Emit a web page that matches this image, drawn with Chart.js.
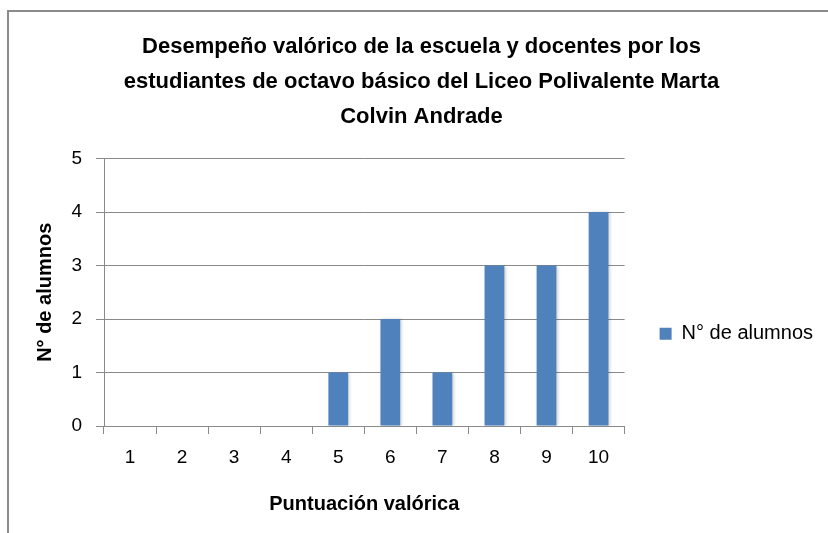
<!DOCTYPE html>
<html>
<head>
<meta charset="utf-8">
<script src="https://cdn.jsdelivr.net/npm/chart.js@4.4.1/dist/chart.umd.min.js"></script>
<style>
  html, body { margin: 0; padding: 0; background: #ffffff; }
  #wrap { width: 828px; height: 533px; position: relative; }
</style>
</head>
<body>
<div id="wrap"><canvas id="c" width="828" height="533"></canvas></div>
<script>
// ---- data ----
const categories = ['1', '2', '3', '4', '5', '6', '7', '8', '9', '10'];
const seriesName = 'N° de alumnos';
const alumnos = [0, 0, 0, 0, 1, 2, 1, 3, 3, 4];
const yTicks = [0, 1, 2, 3, 4, 5];
const titleLines = [
  'Desempeño valórico de la escuela y docentes por los',
  'estudiantes de octavo básico del Liceo Polivalente Marta',
  'Colvin Andrade'
];
const xTitle = 'Puntuación valórica';
const yTitle = 'N° de alumnos';

// ---- styles ----
const FONT = "'Liberation Sans', Arial, sans-serif";
const GRID = '#8a8a8a';
const BAR = '#4F81BD';

const framePlugin = {
  id: 'frame',
  beforeDraw(chart) {
    const ctx = chart.ctx;
    ctx.save();
    ctx.fillStyle = '#ffffff';
    ctx.fillRect(0, 0, chart.width, chart.height);
    ctx.strokeStyle = '#8c8c8c';
    ctx.lineWidth = 2;
    ctx.beginPath();
    ctx.moveTo(8, chart.height + 5);
    ctx.lineTo(8, 11);
    ctx.lineTo(chart.width + 5, 11);
    ctx.stroke();
    ctx.restore();
  }
};

const shadowPlugin = {
  id: 'barShadow',
  beforeDatasetDraw(chart) {
    const ctx = chart.ctx;
    ctx.save();
    ctx.shadowColor = 'rgba(0,0,0,0.18)';
    ctx.shadowBlur = 3;
    ctx.shadowOffsetX = 1.5;
    ctx.shadowOffsetY = 0;
  },
  afterDatasetDraw(chart) {
    chart.ctx.restore();
  }
};

new Chart(document.getElementById('c'), {
  type: 'bar',
  data: {
    labels: categories,
    datasets: [{
      label: seriesName,
      data: alumnos,
      backgroundColor: BAR,
      borderWidth: 0,
      barPercentage: 0.38,
      categoryPercentage: 1.0
    }]
  },
  plugins: [framePlugin, shadowPlugin],
  options: {
    responsive: false,
    animation: false,
    devicePixelRatio: 1,
    layout: { padding: { left: 20, right: 5, top: 12, bottom: 8 } },
    plugins: {
      tooltip: { enabled: false },
      title: {
        display: true,
        text: titleLines,
        color: '#000000',
        font: { family: FONT, size: 22, weight: 'bold', lineHeight: 1.6 },
        padding: { top: 17, bottom: 24 }
      },
      legend: {
        display: true,
        position: 'right',
        align: 'center',
        fullSize: false,
        maxWidth: 300,
        title: { display: true, text: '', font: { size: 10, lineHeight: 1 }, padding: { top: 73, bottom: 0 } },
        labels: {
          boxWidth: 12,
          boxHeight: 12,
          padding: 35,
          color: '#000000',
          font: { family: FONT, size: 20 }
        }
      }
    },
    scales: {
      x: {
        offset: true,
        grid: {
          display: true,
          drawOnChartArea: false,
          offset: true,
          tickLength: 8,
          color: GRID
        },
        border: { display: true, color: GRID },
        ticks: {
          color: '#000000',
          padding: 12,
          maxRotation: 0,
          font: { family: FONT, size: 19 }
        },
        title: {
          display: true,
          text: xTitle,
          color: '#000000',
          font: { family: FONT, size: 20, weight: 'bold' },
          padding: { top: 0, bottom: 9 }
        },
        afterFit(scale) { scale.height = 99; }
      },
      y: {
        min: yTicks[0],
        max: yTicks[yTicks.length - 1],
        ticks: {
          stepSize: 1,
          color: '#000000',
          padding: 14,
          font: { family: FONT, size: 19 }
        },
        grid: { color: GRID, tickLength: 8 },
        border: { display: true, color: GRID },
        title: {
          display: true,
          text: yTitle,
          color: '#000000',
          font: { family: FONT, size: 20, weight: 'bold' },
          padding: { top: 13, bottom: 0 }
        },
        afterFit(scale) { scale.width = 84; }
      }
    }
  }
});
</script>
</body>
</html>
